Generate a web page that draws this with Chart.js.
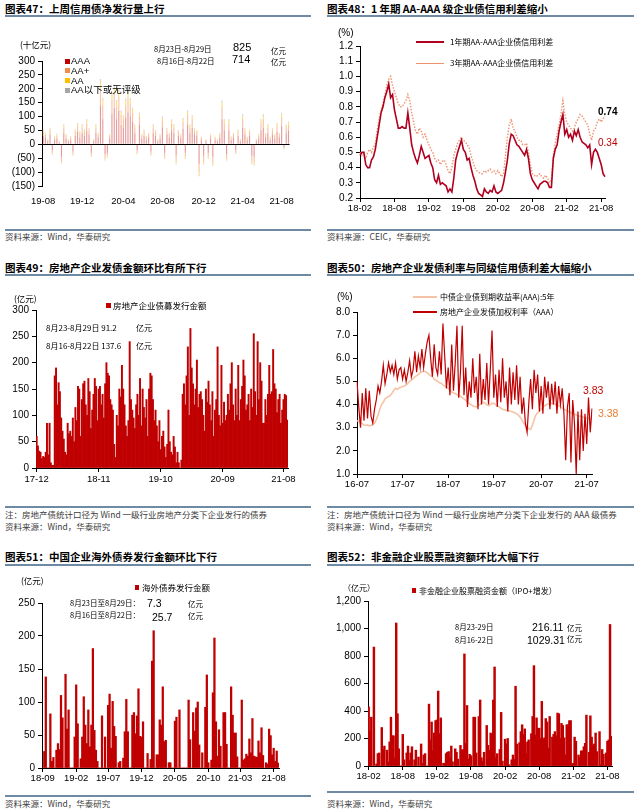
<!DOCTYPE html>
<html>
<head>
<meta charset="utf-8">
<title>信用债周报图表</title>
<script src="https://cdn.jsdelivr.net/npm/chart.js@4.4.1/dist/chart.umd.min.js"></script>
<style>
  body { margin: 0; background: #fff; }
  #page { position: relative; width: 639px; height: 812px; overflow: hidden; font-family: "Noto Sans CJK SC", sans-serif; }
  #page div { position: absolute; white-space: nowrap; line-height: 1; }
  canvas { position: absolute; }
</style>
</head>
<body>
<div id="page">
  <canvas id="c47" width="300" height="170" style="left:0;top:40px"></canvas>
  <canvas id="c48" width="300" height="195" style="left:327px;top:25px"></canvas>
  <canvas id="c49" width="300" height="200" style="left:0;top:290px"></canvas>
  <canvas id="c50" width="300" height="205" style="left:327px;top:290px"></canvas>
  <canvas id="c51" width="300" height="205" style="left:0;top:585px"></canvas>
  <canvas id="c52" width="300" height="205" style="left:327px;top:585px"></canvas>
</div>
<script>
// ---------- data ----------
// 图表47: weekly net issuance (十亿元), weeks from 2019-08-05
var c47Start = '2019-08-05';
var c47Ticks = ['19-08', '19-12', '20-04', '20-08', '20-12', '21-04', '21-08'];
var c47AAA = [30, 25, 10, 35, -20, 15, 20, 5, -45, 40,
  20, 10, 15, -25, 30, 45, 25, 40, 30, 50,
  35, -30, 10, 40, 25, 140, 90, -35, -30, 20,
  110, 130, 90, 120, 70, 60, 95, 115, 100, 80,
  40, -20, 70, 20, 30, 15, 25, -25, 40, 30,
  10, 20, 60, -30, 35, 25, 50, 40, -40, 30,
  20, 55, -30, 70, 40, 60, 35, 30, -70, 15,
  -40, 10, -30, 20, -45, 15, 10, 25, 90, 50,
  -35, 50, 15, 25, -20, 30, 10, 60, 35, 15,
  30, -40, -45, 10, 20, 50, 60, 25, 40, 15,
  35, 20, 45, 25, 65, -10, 42, 48];
var c47AAplus = [15, 10, 5, 15, -10, 8, 10, 5, -15, 20,
  10, 5, 8, -10, 15, 20, 15, 20, 15, 25,
  15, -10, 5, 20, 10, 60, 50, -15, -10, 10,
  50, 55, 45, 50, 35, 30, 45, 50, 45, 35,
  20, -10, 30, 10, 15, 10, 10, -10, 20, 15,
  5, 10, 25, -15, 15, 10, 25, 20, -20, 15,
  10, 25, -15, 35, 20, 30, 15, 15, -30, 8,
  -20, 5, -15, 10, -20, 8, 5, 10, 45, 25,
  -15, 25, 8, 10, -10, 15, 5, 30, 15, 8,
  15, -20, -20, 5, 10, 25, 30, 10, 20, 8,
  15, 10, 20, 10, 30, -5, 18, 22];
var c47AA = [5, 5, 2, 5, -5, 3, 5, 2, -5, 8,
  5, 2, 3, -4, 5, 8, 5, 8, 5, 10,
  5, -4, 2, 8, 5, 25, 20, -5, -5, 4,
  20, 20, 18, 20, 12, 10, 18, 20, 15, 12,
  8, -4, 10, 4, 5, 4, 4, -4, 8, 5,
  2, 4, 10, -5, 5, 4, 10, 8, -8, 5,
  4, 10, -5, 12, 8, 10, 5, 5, -10, 3,
  -8, 2, -5, 4, -8, 3, 2, 4, 15, 10,
  -5, 10, 3, 4, -4, 5, 2, 12, 5, 3,
  5, -8, -8, 2, 4, 10, 12, 4, 8, 3,
  5, 4, 8, 4, 12, -2, 7, 9];
var c47Below = [3, 2, 1, 3, -2, 2, 3, 1, -3, 4,
  2, 1, 2, -2, 3, 4, 2, 4, 3, 5,
  3, -2, 1, 4, 2, 10, 8, -3, -2, 2,
  8, 10, 7, 8, 5, 4, 7, 8, 6, 5,
  3, -2, 5, 2, 3, 2, 2, -2, 4, 2,
  1, 2, 5, -3, 3, 2, 5, 4, -4, 2,
  2, 5, -3, 6, 4, 5, 3, 2, -5, 1,
  -4, 1, -3, 2, -4, 1, 1, 2, 8, 5,
  -3, 5, 2, 2, -2, 3, 1, 6, 3, 1,
  3, -4, -4, 1, 2, 5, 6, 2, 4, 1,
  3, 2, 4, 2, 6, -1, 4.4, 3.5];

// 图表48: credit spreads (%), three readings a month from 2018-02
var c48Ticks = ['18-02', '18-08', '19-02', '19-08', '20-02', '20-08', '21-02', '21-08'];
var c48Spread1y = [0.48, 0.50, 0.50, 0.42, 0.40, 0.40, 0.45, 0.47, 0.52, 0.60,
  0.68, 0.76, 0.80, 0.86, 0.90, 0.95, 0.86, 0.88, 0.78, 0.72,
  0.66, 0.66, 0.67, 0.66, 0.66, 0.76, 0.66, 0.55, 0.50, 0.46,
  0.43, 0.48, 0.54, 0.50, 0.46, 0.47, 0.48, 0.43, 0.40, 0.32,
  0.30, 0.35, 0.29, 0.30, 0.29, 0.28, 0.24, 0.26, 0.24, 0.33,
  0.45, 0.50, 0.54, 0.58, 0.52, 0.50, 0.45, 0.46, 0.40, 0.35,
  0.31, 0.26, 0.23, 0.22, 0.21, 0.26, 0.24, 0.23, 0.25, 0.24,
  0.28, 0.24, 0.23, 0.24, 0.25, 0.30, 0.37, 0.45, 0.56, 0.62,
  0.61, 0.58, 0.55, 0.54, 0.52, 0.50, 0.48, 0.52, 0.46, 0.36,
  0.32, 0.30, 0.28, 0.26, 0.29, 0.30, 0.31, 0.31, 0.30, 0.27,
  0.27, 0.46, 0.52, 0.55, 0.64, 0.70, 0.75, 0.62, 0.65, 0.60,
  0.62, 0.58, 0.64, 0.61, 0.65, 0.60, 0.57, 0.56, 0.55, 0.53,
  0.55, 0.42, 0.50, 0.52, 0.50, 0.46, 0.42, 0.36, 0.34];
var c48Spread3y = [0.50, 0.48, 0.50, 0.46, 0.50, 0.52, 0.50, 0.53, 0.56, 0.65,
  0.72, 0.78, 0.82, 0.88, 0.94, 0.98, 1.00, 0.94, 0.90, 0.86,
  0.82, 0.80, 0.80, 0.82, 0.84, 0.88, 0.84, 0.76, 0.70, 0.64,
  0.62, 0.66, 0.64, 0.60, 0.62, 0.58, 0.55, 0.52, 0.50, 0.46,
  0.44, 0.45, 0.42, 0.44, 0.45, 0.42, 0.38, 0.36, 0.40, 0.48,
  0.52, 0.56, 0.58, 0.60, 0.58, 0.57, 0.55, 0.53, 0.48, 0.44,
  0.40, 0.38, 0.37, 0.36, 0.36, 0.38, 0.37, 0.38, 0.39, 0.37,
  0.38, 0.36, 0.38, 0.36, 0.34, 0.36, 0.48, 0.60, 0.68, 0.72,
  0.66, 0.64, 0.60, 0.58, 0.58, 0.55, 0.55, 0.56, 0.50, 0.42,
  0.36, 0.35, 0.34, 0.35, 0.36, 0.34, 0.33, 0.35, 0.33, 0.30,
  0.32, 0.48, 0.56, 0.62, 0.68, 0.75, 0.84, 0.75, 0.70, 0.68,
  0.66, 0.64, 0.66, 0.70, 0.72, 0.75, 0.74, 0.72, 0.70, 0.68,
  0.62, 0.58, 0.64, 0.66, 0.70, 0.72, 0.70, 0.72, 0.74];

// 图表49: weekly real-estate bond issuance (亿元), weeks from 2017-12-04
var c49Start = '2017-12-04';
var c49Ticks = ['17-12', '18-11', '19-10', '20-09', '21-08'];
var c49Issue = [60, 42, 32, 30, 18, 22, 20, 30, 85, 25,
  85, 10, 5, 5, 175, 190, 120, 162, 145, 95,
  70, 55, 30, 25, 85, 65, 70, 60, 95, 50,
  115, 90, 155, 150, 60, 130, 160, 165, 120, 100,
  170, 145, 75, 110, 140, 170, 155, 90, 150, 155,
  120, 140, 95, 160, 200, 180, 175, 130, 120, 110,
  45, 20, 100, 80, 150, 135, 195, 150, 120, 80,
  60, 90, 240, 130, 110, 95, 75, 120, 140, 100,
  170, 80, 150, 115, 95, 130, 60, 150, 180, 175,
  130, 90, 110, 80, 50, 90, 35, 60, 70, 40,
  20, 45, 110, 50, 30, 25, 60, 40, 10, 30,
  10, 0, 15, 140, 160, 120, 175, 230, 100, 265,
  190, 160, 120, 150, 205, 115, 140, 145, 130, 100,
  70, 150, 125, 165, 120, 90, 145, 60, 110, 130,
  230, 100, 80, 195, 85, 125, 90, 100, 140, 110,
  160, 200, 120, 90, 150, 100, 195, 90, 130, 155,
  205, 175, 110, 120, 140, 90, 150, 115, 255, 145,
  100, 240, 130, 200, 165, 85, 85, 130, 100, 140,
  195, 140, 145, 225, 160, 150, 105, 130, 140, 85, 110, 130, 140, 137.6, 91.2];

// 图表50: yields (%), every two weeks from 2016-07-04
var c50Start = '2016-07-04';
var c50Ticks = ['16-07', '17-07', '18-07', '19-07', '20-07', '21-07'];
var c50Yield5y = [3.30, 3.28, 3.22, 3.18, 3.12, 3.10, 3.12, 3.08, 3.10, 3.15, 3.20, 3.35, 3.55,
  3.80, 4.00, 4.10, 4.25, 4.30, 4.35, 4.40, 4.50, 4.62, 4.70, 4.65, 4.72, 4.75,
  4.78, 4.80, 4.85, 4.92, 5.00, 5.05, 5.12, 5.20, 5.25, 5.30, 5.38, 5.42, 5.45, 5.42, 5.38, 5.30, 5.25, 5.20, 5.10, 5.05, 5.00, 4.95, 4.92, 4.85, 4.80, 4.75,
  4.70, 4.62, 4.55, 4.50, 4.48, 4.42, 4.40, 4.35, 4.30, 4.25, 4.18, 4.10, 4.05, 4.00, 3.95, 3.92, 3.90, 3.95, 4.00, 4.05, 4.10, 4.05, 4.00, 3.95, 4.00, 4.05,
  4.05, 4.00, 3.95, 3.90, 3.85, 3.80, 3.78, 3.75, 3.75, 3.72, 3.70, 3.68, 3.65, 3.60, 3.55, 3.45, 3.35, 3.20, 3.10, 3.05, 2.95, 2.92, 3.10, 3.35, 3.55, 3.65,
  3.70, 3.80, 3.90, 3.95, 4.00, 4.02, 4.05, 4.05, 4.02, 4.00, 3.98, 3.95, 3.90, 3.85, 3.80, 3.75, 3.72, 3.68, 3.65, 3.60, 3.58, 3.55, 3.52, 3.50, 3.48, 3.45,
  3.44, 3.42, 3.40, 3.39, 3.38];
var c50RealEstate = [5.0, 3.9, 3.0, 4.5, 3.3, 4.7, 3.4, 4.6, 3.5, 3.2, 3.8, 4.2, 4.8,
  4.5, 5.0, 5.7, 4.9, 5.3, 5.8, 5.4, 5.7, 5.3, 5.8, 5.1, 5.5, 5.6,
  5.1, 5.5, 5.0, 5.4, 5.9, 5.2, 5.5, 6.3, 5.4, 6.1, 5.6, 6.4, 5.6, 6.2, 6.7, 7.0, 6.0, 5.2, 6.6, 5.6, 5.3, 6.3, 5.3, 7.5, 6.1, 4.7,
  5.6, 4.4, 6.6, 4.6, 5.8, 7.4, 4.3, 5.4, 7.4, 4.4, 5.6, 3.9, 5.0, 4.3, 6.0, 4.5, 5.2, 3.8, 6.2, 4.0, 5.1, 4.2, 5.8, 4.0, 5.5, 7.2,
  4.3, 5.3, 3.9, 5.5, 4.1, 6.0, 4.3, 5.0, 3.7, 5.6, 4.0, 5.4, 4.2, 5.7, 4.0, 5.2, 3.6, 4.3, 3.2, 2.8, 4.1, 5.1, 3.8, 5.5, 4.5, 5.3,
  3.7, 4.8, 3.6, 5.2, 4.3, 5.0, 3.8, 4.9, 4.0, 5.0, 3.6, 4.8, 4.0, 4.7, 3.6, 1.6, 3.9, 4.5, 1.5, 4.2,
  3.2, 1.0, 3.7, 1.6, 3.8, 2.0, 3.6, 2.3, 4.3, 2.8, 3.83];

// 图表51: weekly offshore bond issuance (亿元), weeks from 2018-09-03
var c51Start = '2018-09-03';
var c51Ticks = ['18-09', '19-02', '19-07', '19-12', '20-05', '20-10', '21-03', '21-08'];
var c51Issue = [0, 25, 138, 0, 0, 82, 10, 16, 0, 27,
  37, 28, 110, 76, 0, 142, 59, 88, 0, 0,
  0, 47, 126, 67, 0, 14, 47, 108, 65, 37,
  88, 32, 65, 181, 57, 27, 10, 0, 0, 79,
  0, 47, 0, 95, 112, 30, 101, 63, 48, 0,
  8, 10, 0, 15, 55, 104, 55, 0, 0, 80,
  84, 52, 79, 120, 48, 47, 70, 0, 0, 22,
  0, 13, 162, 208, 0, 20, 20, 73, 65, 123,
  40, 42, 0, 8, 8, 0, 0, 71, 77, 0,
  88, 0, 0, 0, 0, 0, 103, 43, 0, 84,
  56, 91, 100, 35, 0, 23, 0, 92, 141, 8,
  0, 12, 114, 197, 70, 18, 58, 33, 0, 84,
  84, 36, 0, 0, 123, 80, 53, 53, 17, 0,
  0, 103, 12, 14, 21, 18, 44, 23, 75, 18,
  17, 16, 41, 23, 61, 19, 0, 8, 6, 59,
  49, 20, 30, 10, 25.7, 7.3];

// 图表52: weekly equity financing (亿元), weeks from 2018-02-05
var c52Start = '2018-02-05';
var c52Ticks = ['18-02', '18-08', '19-02', '19-08', '20-02', '20-08', '21-02', '21-08'];
var c52Equity = [430, 255, 355, 0, 865, 0, 15, 90, 95, 0,
  280, 120, 145, 0, 115, 30, 175, 355, 220, 220,
  60, 1040, 380, 125, 0, 0, 230, 45, 0, 95,
  145, 40, 95, 140, 0, 45, 115, 0, 65, 0,
  160, 20, 80, 90, 0, 0, 450, 190, 320, 110,
  240, 330, 335, 545, 235, 350, 0, 20, 20, 90,
  100, 105, 60, 145, 30, 0, 125, 100, 50, 0,
  150, 115, 120, 815, 165, 440, 50, 85, 75, 0,
  355, 355, 95, 0, 360, 480, 60, 35, 100, 0,
  295, 150, 115, 240, 230, 480, 720, 60, 90, 0,
  120, 390, 35, 0, 195, 160, 200, 10, 0, 45,
  80, 50, 580, 160, 0, 170, 250, 300, 230, 270,
  90, 175, 190, 0, 235, 360, 730, 225, 350, 275,
  275, 200, 470, 195, 205, 345, 320, 130, 360, 0,
  210, 230, 250, 220, 385, 380, 200, 310, 295, 205,
  80, 300, 300, 330, 330, 10, 20, 210, 180, 0,
  80, 60, 110, 110, 140, 165, 370, 0, 100, 365,
  210, 150, 160, 240, 105, 0, 250, 10, 120, 85,
  5, 95, 180, 190, 1029.31, 216.11];

// ---------- helpers ----------
var ARIAL = "'Liberation Sans', Arial, sans-serif";
var CJK = "'Noto Sans CJK SC', sans-serif";
var RED = '#C00000';
var page = document.getElementById('page');

function yymm(d) {
  return String(d.getUTCFullYear()).slice(2) + '-' + String(d.getUTCMonth() + 1).padStart(2, '0');
}
// one category label (YY-MM) per period, counted from a start date
function periodLabels(start, n, stepDays) {
  var t0 = Date.parse(start + 'T00:00:00Z');
  var out = [];
  for (var i = 0; i < n; i++) out.push(yymm(new Date(t0 + i * stepDays * 86400000)));
  return out;
}
function monthLabels(y, m, n, perMonth) {
  var out = [];
  for (var i = 0; i < n; i++) {
    for (var k = 0; k < perMonth; k++) out.push(yymm(new Date(Date.UTC(y, m - 1 + i, 1))));
  }
  return out;
}
// show a label only at the first period of a listed month
function tickCb(list) {
  return function (v) {
    var l = this.getLabelForValue(v);
    if (list.indexOf(l) < 0) return null;
    return (v === 0 || this.getLabelForValue(v - 1) !== l) ? l : null;
  };
}
function xScale(list, h, pad) {
  return {
    ticks: { autoSkip: false, maxRotation: 0, minRotation: 0, padding: pad, color: '#000',
      font: { family: ARIAL, size: 9.5 }, callback: tickCb(list) },
    grid: { display: true, drawOnChartArea: false, drawTicks: true, tickLength: 4, color: '#000', offset: false },
    border: { display: true, color: '#000' },
    afterFit: function (s) { s.height = h; }
  };
}
function yScale(min, max, step, w, fmt) {
  return {
    min: min, max: max,
    ticks: { stepSize: step, autoSkip: false, padding: 3, color: '#000', font: { family: ARIAL, size: 10 }, callback: fmt },
    grid: { display: true, drawOnChartArea: false, drawTicks: true, tickLength: 4, color: '#000' },
    border: { display: true, color: '#000' },
    afterFit: function (s) { s.width = w; }
  };
}
function baseOptions(top, right, xs, ys) {
  return {
    responsive: false, animation: false, events: [],
    layout: { padding: { top: top, right: right, bottom: 0, left: 0 } },
    plugins: { legend: { display: false }, tooltip: { enabled: false } },
    scales: { x: xs, y: ys }
  };
}
function txt(x, cy, s, size, color, font, extra) {
  var d = document.createElement('div');
  d.textContent = s;
  d.style.left = x + 'px';
  d.style.top = (cy - size / 2) + 'px';
  d.style.fontSize = size + 'px';
  d.style.color = color || '#000';
  d.style.fontFamily = font || CJK;
  if (extra) Object.assign(d.style, extra);
  page.appendChild(d);
}
function rect(x, y, w, h, bg) {
  var d = document.createElement('div');
  Object.assign(d.style, { left: x + 'px', top: y + 'px', width: w + 'px', height: h + 'px', background: bg });
  page.appendChild(d);
}
var oneDecimal = function (v) { return v.toFixed(1); };

// ---------- frames, titles, sources ----------
var RULE = '#6f8aa5';
var SRC = '#404040';
[[5, 306], [327, 307]].forEach(function (c) {
  rect(c[0], 15, c[1], 2, RULE);
  rect(c[0], 274, c[1], 2, RULE);
  rect(c[0], 564, c[1], 2, RULE);
  rect(c[0], 229, c[1], 1.5, RULE);
  rect(c[0], 506, c[1], 1.5, RULE);
});
rect(5, 795, 306, 1.5, RULE);
rect(327, 791, 307, 1.5, RULE);

var bold = { fontWeight: 'bold' };
txt(5, 9, '图表47：上周信用债净发行量上行', 10.5, '#000', CJK, bold);
txt(327, 9, '图表48：1 年期 AA-AAA 级企业债信用利差缩小', 10.5, '#000', CJK, bold);
txt(5, 268, '图表49：房地产企业发债金额环比有所下行', 10.5, '#000', CJK, bold);
txt(327, 268, '图表50：房地产企业发债利率与同级信用债利差大幅缩小', 10.5, '#000', CJK, bold);
txt(5, 557, '图表51：中国企业海外债券发行金额环比下行', 10.5, '#000', CJK, bold);
txt(327, 557, '图表52：非金融企业股票融资额环比大幅下行', 10.5, '#000', CJK, bold);

txt(5, 236, '资料来源：Wind，华泰研究', 8.5, SRC);
txt(327, 236, '资料来源：CEIC，华泰研究', 8.5, SRC);
txt(5, 514, '注：房地产债统计口径为 Wind 一级行业房地产分类下企业发行的债券', 8.5, SRC);
txt(5, 526, '资料来源：Wind，华泰研究', 8.5, SRC);
txt(327, 514, '注：房地产债统计口径为 Wind 一级行业房地产分类下企业发行的 AAA 级债券', 8.5, SRC);
txt(327, 526, '资料来源：Wind，华泰研究', 8.5, SRC);
txt(5, 803, '资料来源：Wind，华泰研究', 8.5, SRC);
txt(327, 803, '资料来源：Wind，华泰研究', 8.5, SRC);

// ---------- 图表47 ----------
var c47Colors = [RED, '#F08C4E', '#FFC000', '#A6A6A6'];
var c47BarColors = ['rgba(192,0,0,0.4)', 'rgba(240,140,78,0.5)', 'rgba(255,192,0,0.5)', 'rgba(166,166,166,0.5)'];
var c47Names = ['AAA', 'AA+', 'AA', 'AA以下或无评级'];
var y47 = yScale(-150, 300, 50, 42, function (v) { return v < 0 ? '(' + (-v) + ')' : v; });
y47.stacked = true;
y47.grid.drawOnChartArea = true;
y47.grid.tickColor = '#000';
y47.grid.color = function (c) { return c.tick && c.tick.value === 0 ? '#000' : 'rgba(0,0,0,0)'; };
var x47 = xScale(c47Ticks, 24, 6);
x47.stacked = true;
x47.grid.display = false;
x47.border.display = false;
new Chart(document.getElementById('c47'), {
  type: 'bar',
  data: {
    labels: periodLabels(c47Start, c47AAA.length, 7),
    datasets: [c47AAA, c47AAplus, c47AA, c47Below].map(function (d, i) {
      return { label: c47Names[i], data: d, backgroundColor: c47BarColors[i], barPercentage: 0.5, categoryPercentage: 1 };
    })
  },
  options: baseOptions(21, 7, x47, y47)
});
txt(20, 44, '(十亿元)', 8.5, '#000');
c47Names.forEach(function (n, i) {
  var cy = [61, 70.5, 80.5, 90][i];
  rect(65, cy - 2.5, 5, 5, c47Colors[i]);
  txt(71, cy, n, 9.5, '#000', "'Liberation Sans', 'Noto Sans CJK SC', sans-serif");
});
txt(154, 49, '8月23日-8月29日', 7.5, '#000');
txt(157, 61, '8月16日-8月22日', 7.5, '#000');
txt(233, 47, '825', 11, '#000', ARIAL);
txt(232, 59.5, '714', 11, '#000', ARIAL);
txt(271, 50.5, '亿元', 7.5, '#000');
txt(271, 61.5, '亿元', 7.5, '#000');

// ---------- 图表48 ----------
new Chart(document.getElementById('c48'), {
  type: 'line',
  data: {
    labels: monthLabels(2018, 2, 43, 3),
    datasets: [
      { label: '1年期AA-AAA企业债信用利差', data: c48Spread1y, borderColor: '#B0001E', borderWidth: 1.6, pointRadius: 0, tension: 0 },
      { label: '3年期AA-AAA企业债信用利差', data: c48Spread3y, borderColor: '#EE9370', borderWidth: 1.4, borderDash: [1.5, 1.5], pointRadius: 0, tension: 0 }
    ]
  },
  options: baseOptions(21, 22, xScale(c48Ticks, 22, 1), yScale(0.2, 1.2, 0.1, 33, oneDecimal))
});
txt(338, 33, '(%)', 10, '#000', ARIAL);
rect(416, 41.2, 28, 1.6, '#B0001E');
txt(450, 42, '1年期AA-AAA企业债信用利差', 8, '#000');
rect(416, 62.5, 28, 1, '#EE9370');
txt(450, 63, '3年期AA-AAA企业债信用利差', 8, '#000');
txt(598, 112, '0.74', 10, '#000', ARIAL, bold);
txt(598, 142.5, '0.34', 10, RED, ARIAL);

// ---------- 图表49 ----------
new Chart(document.getElementById('c49'), {
  type: 'bar',
  data: {
    labels: periodLabels(c49Start, c49Issue.length, 7),
    datasets: [{ label: '房地产企业债募发行金额', data: c49Issue, backgroundColor: RED, barPercentage: 1, categoryPercentage: 1 }]
  },
  options: baseOptions(20, 12, xScale(c49Ticks, 22, 2), yScale(0, 300, 50, 36))
});
txt(14, 298, '(亿元)', 8.5, '#000');
rect(106, 302.5, 5, 5, RED);
txt(113, 305, '房地产企业债募发行金额', 8.5, '#000');
txt(46, 328, '8月23-8月29日 91.2', 8, '#000');
txt(136, 328, '亿元', 8, '#000');
txt(46, 346, '8月16-8月22日 137.6', 8, '#000');
txt(136, 346, '亿元', 8, '#000');

// ---------- 图表50 ----------
new Chart(document.getElementById('c50'), {
  type: 'line',
  data: {
    labels: periodLabels(c50Start, c50RealEstate.length, 14),
    datasets: [
      { label: '房地产企业发债加权利率（AAA）', data: c50RealEstate, borderColor: RED, borderWidth: 1.2, pointRadius: 0, tension: 0 },
      { label: '中债企业债到期收益率(AAA):5年', data: c50Yield5y, borderColor: '#F6C3A6', borderWidth: 1.6, pointRadius: 0, tension: 0 }
    ]
  },
  options: baseOptions(22, 35, xScale(c50Ticks, 21, 1), yScale(1, 8, 1, 30, oneDecimal))
});
txt(337, 297, '(%)', 10, '#000', ARIAL);
rect(413, 296.2, 24, 1.6, '#F6C3A6');
txt(440, 297, '中债企业债到期收益率(AAA):5年', 8, '#000');
rect(413, 311.4, 24, 1.4, RED);
txt(440, 312, '房地产企业发债加权利率（AAA）', 8, '#000');
txt(583, 390, '3.83', 10.5, RED, ARIAL);
txt(598, 413, '3.38', 10.5, '#ED7D31', ARIAL);

// ---------- 图表51 ----------
new Chart(document.getElementById('c51'), {
  type: 'bar',
  data: {
    labels: periodLabels(c51Start, c51Issue.length, 7),
    datasets: [{ label: '海外债券发行金额', data: c51Issue, backgroundColor: RED, barThickness: 1.6 }]
  },
  options: baseOptions(18, 21, xScale(c51Ticks, 22, 1), yScale(0, 250, 50, 42))
});
txt(21, 580, '(亿元)', 8.5, '#000');
rect(135, 584.5, 4, 5, RED);
txt(142, 587, '海外债券发行金额', 8.5, '#000');
txt(70, 603, '8月23日至8月29日：', 7.5, '#000');
txt(70, 615, '8月16日至8月22日：', 7.5, '#000');
txt(147, 603, '7.3', 10.5, '#000', ARIAL);
txt(152, 617, '25.7', 10.5, '#000', ARIAL);
txt(188, 604, '亿元', 7.5, '#000');
txt(188, 616, '亿元', 7.5, '#000');

// ---------- 图表52 ----------
new Chart(document.getElementById('c52'), {
  type: 'bar',
  data: {
    labels: periodLabels(c52Start, c52Equity.length, 7),
    datasets: [{ label: '非金融企业股票融资金额（IPO+增发）', data: c52Equity, backgroundColor: RED, barThickness: 1.8 }]
  },
  options: baseOptions(16, 15, xScale(c52Ticks, 24, 1), yScale(0, 1200, 200, 41, function (v) { return v.toLocaleString('en-US'); }))
});
txt(343, 588, '（亿元）', 8, '#000');
rect(412, 588, 4, 5, RED);
txt(419, 591, '非金融企业股票融资金额（IPO+增发）', 8, '#000');
txt(455, 627, '8月23-29日', 7.5, '#000');
txt(455, 640, '8月16-22日', 7.5, '#000');
txt(532, 627, '216.11', 10.5, '#000', ARIAL);
txt(527, 640, '1029.31', 10.5, '#000', ARIAL);
txt(567, 628, '亿元', 7.5, '#000');
txt(567, 639, '亿元', 7.5, '#000');
</script>
</body>
</html>
